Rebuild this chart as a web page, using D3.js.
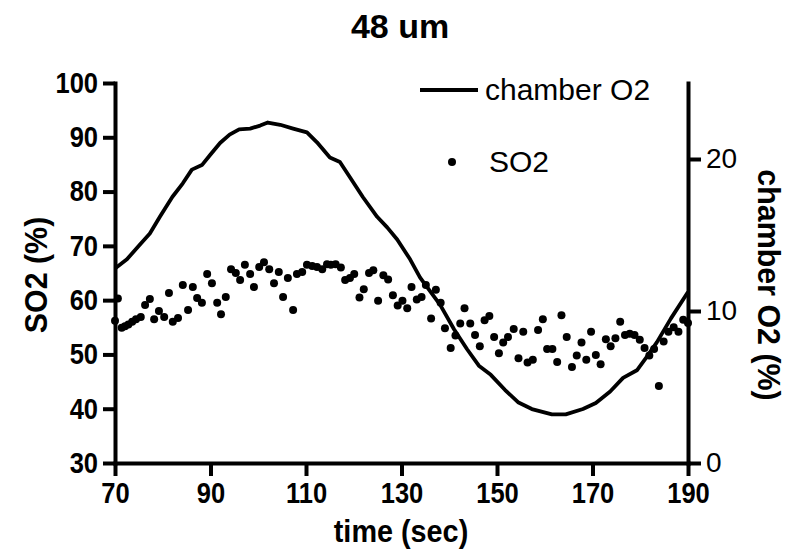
<!DOCTYPE html>
<html>
<head>
<meta charset="utf-8">
<script src="https://cdn.jsdelivr.net/npm/d3@7"></script>
<style>
    body { margin: 0; background: #fff; }
    .axis path, .axis line { stroke: #000; stroke-width: 4; }
    .axis text { fill: #000; font-family: "Liberation Sans", Arial, sans-serif; }
    .bold text { font-weight: bold; font-size: 29px; transform: scaleX(0.88); transform-box: fill-box; transform-origin: center; }
    .yleft text { transform-origin: right center; }
    .right text { font-size: 28px; }
</style>
</head>
<body>
<div class="container"></div>
<script>
const WIDTH = 800;
const HEIGHT = 560;
const LEFT = 115, RIGHT = 688, TOP = 83, BOTTOM = 463;

// chamber O2 trace (right axis, %)
var o2Time = [70, 72.5, 75, 77.3, 79.4, 82, 84.2, 86.1, 88.2, 90, 92, 94, 96, 98.3, 100.4, 102,
    104.6, 107.3, 110.2, 112.3, 115, 117.1, 119.2, 121.9, 124.9, 127, 129.1, 131.8, 133.9,
    138.1, 141, 143.7, 146.2, 148.7, 151.7, 154.4, 157.3, 161.5, 164.4, 168, 170.7, 173.7,
    176.4, 179.3, 181.4, 183.5, 186.4, 190];
var o2Value = [12.8, 13.4, 14.3, 15.1, 16.2, 17.5, 18.4, 19.3, 19.6, 20.3, 21.05, 21.6, 21.95, 22.0, 22.2, 22.4,
    22.25, 22.0, 21.75, 21.1, 20.1, 19.8, 18.8, 17.5, 16.2, 15.5, 14.7, 13.4, 12.2,
    10.4, 8.8, 7.5, 6.4, 5.8, 4.8, 4.0, 3.55, 3.2, 3.2, 3.55, 3.95, 4.7,
    5.6, 6.1, 7.0, 7.95, 9.5, 11.25];

// SO2 samples (left axis, %)
var so2Time = [70.0, 70.6, 71.4, 72.1, 72.8, 73.6, 74.4, 75.4, 76.3, 77.3, 78.2, 79.2, 80.3, 81.3, 82.1,
    83.2, 84.2, 85.3, 86.3, 87.2, 88.2, 89.3, 90.3, 91.4, 92.2, 93.2, 94.3, 95.3, 96.2, 97.2,
    98.3, 99.1, 100.2, 101.2, 102.3, 103.3, 104.3, 105.2, 106.2, 107.3, 108.1, 109.2, 110.2,
    111.3, 112.3, 113.4, 114.4, 115.2, 116.2, 117.3, 118.2, 119.2, 120.1, 121.2, 122.1, 123.2,
    124.1, 125.1, 126.2, 127.2, 128.2, 129.2, 130.2, 131.2, 132.1, 133.2, 134.2, 135.1, 136.2,
    137.2, 138.2, 139.1, 140.3, 141.3, 142.3, 143.2, 144.4, 145.4, 146.4, 147.4, 148.4, 149.4,
    150.4, 151.3, 152.3, 153.5, 154.5, 155.5, 156.4, 157.5, 158.6, 159.6, 160.5, 161.6, 162.6,
    163.5, 164.6, 165.7, 166.7, 167.7, 168.7, 169.7, 170.7, 171.7, 172.8, 173.8, 174.8, 175.8,
    176.8, 177.8, 178.8, 179.9, 180.9, 181.9, 182.9, 183.9, 184.9, 185.9, 187.0, 188.0, 189.0, 190.0];
var so2Value = [56.2, 60.3, 54.9, 55.2, 55.5, 56.0, 56.5, 56.9, 59.1, 60.2, 56.5, 58.0, 56.9, 61.3, 56.0,
    56.7, 62.8, 58.2, 62.4, 60.4, 59.5, 64.8, 63.1, 59.5, 57.4, 60.6, 65.7, 65.0, 63.7, 66.5,
    64.8, 62.4, 66.1, 67.0, 65.7, 63.1, 65.2, 60.6, 64.1, 58.2, 64.8, 65.2, 66.5,
    66.3, 66.1, 65.7, 66.6, 66.5, 66.6, 66.0, 63.7, 64.1, 64.8, 60.5, 62.0, 65.0,
    65.5, 59.9, 64.6, 63.8, 60.9, 59.0, 59.9, 58.5, 62.4, 60.1, 60.6, 62.8, 56.6,
    61.9, 59.5, 54.8, 51.2, 53.5, 55.7, 58.5, 55.7, 53.6, 51.5, 56.3, 57.1, 53.2,
    50.2, 52.2, 53.2, 54.7, 49.3, 54.2, 48.5, 49.0, 54.5, 56.5, 51.0, 51.0, 48.6,
    57.2, 53.2, 47.7, 49.8, 52.2, 49.0, 54.2, 49.9, 48.2, 52.8, 51.5, 53.0, 56.0,
    53.6, 53.8, 53.6, 52.7, 51.2, 49.8, 51.0, 44.2, 52.4, 54.2, 55.0, 54.2, 56.4, 55.8];

var xTicks = [70, 90, 110, 130, 150, 170, 190];
var leftTicks = [30, 40, 50, 60, 70, 80, 90, 100];
var rightTicks = [0, 10, 20];

var svg, xScale, yLeft, yRight;

var translate = function (x, y) {
    return "translate(" + x + "," + y + ")";
};

var addText = function (txt, x, y, size, weight, rotate, anchor, sx) {
    svg.append("text")
        .attr("transform", translate(x, y) + (rotate ? " rotate(" + rotate + ")" : "") + (sx ? " scale(" + sx + ",1)" : ""))
        .attr("text-anchor", anchor || "middle")
        .style("font-family", '"Liberation Sans", Arial, sans-serif')
        .style("font-size", size + "px")
        .style("font-weight", weight)
        .text(txt);
};

var generateChart = function () {
    svg = d3.select(".container").append("svg")
        .attr("width", WIDTH)
        .attr("height", HEIGHT);

    xScale = d3.scaleLinear().domain([70, 190]).range([LEFT, RIGHT]);
    yLeft = d3.scaleLinear().domain([30, 100]).range([BOTTOM, TOP]);
    yRight = d3.scaleLinear().domain([0, 25]).range([BOTTOM, TOP]);

    // O2 trace
    var o2 = o2Time.map(function (t, i) { return [t, o2Value[i]]; });
    var line = d3.line()
        .x(function (d) { return xScale(d[0]); })
        .y(function (d) { return yRight(d[1]); });
    svg.append("path")
        .attr("d", line(o2))
        .attr("fill", "none")
        .attr("stroke", "#000")
        .attr("stroke-width", 3.8)
        .attr("stroke-linejoin", "round");

    // SO2 dots
    svg.selectAll("circle.so2")
        .data(so2Time)
        .enter()
        .append("circle")
        .attr("class", "so2")
        .attr("cx", function (d) { return xScale(d); })
        .attr("cy", function (d, i) { return yLeft(so2Value[i]); })
        .attr("r", 4)
        .attr("fill", "#000");

    svg.append("g")
        .attr("class", "axis bold")
        .attr("transform", translate(0, BOTTOM))
        .call(d3.axisBottom(xScale).tickValues(xTicks).tickSize(13).tickSizeOuter(0).tickPadding(6));

    svg.append("g")
        .attr("class", "axis bold yleft")
        .attr("transform", translate(LEFT, 0))
        .call(d3.axisLeft(yLeft).tickValues(leftTicks).tickSize(12).tickSizeOuter(0).tickPadding(5));

    svg.append("g")
        .attr("class", "axis right")
        .attr("transform", translate(RIGHT, 0))
        .call(d3.axisRight(yRight).tickValues(rightTicks).tickSize(13).tickSizeOuter(0).tickPadding(5));

    svg.selectAll(".axis .domain").attr("stroke-linecap", "square");

    // titles
    addText("48 um", 400, 38, 34, "bold");
    addText("time (sec)", 401, 542, 32, "bold", 0, "middle", 0.9);
    addText("SO2 (%)", 47, 275, 32, "bold", -90, "middle", 0.95);
    addText("chamber O2 (%)", 758, 285, 32, "bold", 90, "middle", 0.95);

    // legend
    svg.append("line")
        .attr("x1", 420).attr("x2", 478)
        .attr("y1", 90).attr("y2", 90)
        .attr("stroke", "#000").attr("stroke-width", 3.8);
    addText("chamber O2", 485, 100, 30, "normal", 0, "start");
    svg.append("circle")
        .attr("cx", 452).attr("cy", 162).attr("r", 4).attr("fill", "#000");
    addText("SO2", 489, 172, 30, "normal", 0, "start");
};

window.onload = generateChart;
</script>
</body>
</html>
